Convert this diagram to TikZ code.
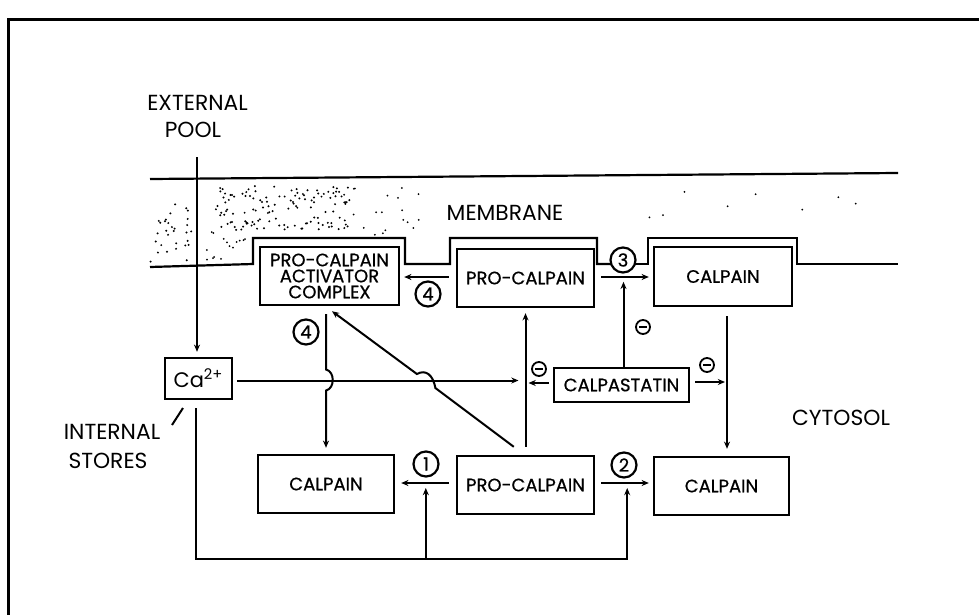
\documentclass[tikz,border=0pt]{standalone}
\usepackage{fontspec}
\setmainfont{Poppins}
\newfontfamily\boxfont{Poppins}[FakeBold=0.7]
\usetikzlibrary{arrows.meta,calc}
\begin{document}
\begin{tikzpicture}[x=0.5pt,y=-0.5pt,line width=1pt,
  arr/.style={-{Stealth[length=3.6pt,width=3pt]}},
  box/.style={draw,line width=1.2pt,inner sep=0pt,align=center,font=\boxfont\fontsize{9}{8}\selectfont},
  num/.style={draw,circle,line width=1.1pt,minimum size=12.5pt,inner sep=0pt,font=\boxfont\fontsize{9}{9}\selectfont},
  neg/.style={draw,circle,line width=0.9pt,minimum size=7pt,inner sep=0pt},
  lab/.style={font=\fontsize{10.9}{11}\selectfont,inner sep=0pt},
  mem/.style={line width=1.1pt}]
\useasboundingbox (0,0) rectangle (979,615);
% frame
\draw[line width=1.5pt] (8,615) -- (8,20) -- (979,20);
% stipple of the membrane
\pgfmathsetseed{12}
\foreach \i in {1,...,130}{\fill ({215+135*rnd},{186+44*rnd}) circle (0.55pt);}
\foreach \i in {1,...,30}{\fill ({150+44*rnd},{200+62*rnd}) circle (0.55pt);}
\foreach \i in {1,...,15}{\fill ({205+45*rnd},{230+30*rnd}) circle (0.5pt);}
\foreach \i in {1,...,18}{\fill ({350+75*rnd},{186+50*rnd}) circle (0.5pt);}
\foreach \i in {1,...,8}{\fill ({590+300*rnd},{190+40*rnd}) circle (0.5pt);}
% membrane
\draw[mem] (150,179) -- (898,173);
\draw[mem] (150,267) -- (253,264) -- (253,238) -- (405,238) -- (405,264) -- (450,264) -- (450,238) -- (597,238) -- (597,264) -- (611,264);
\draw[mem] (635,264) -- (648,264) -- (648,238) -- (797,238) -- (797,264) -- (898,264);
% labels
\node[lab] (ext) at (197.5,103) {EXTERNAL};
\node[lab] (pool) at (193,130) {POOL};
\node[lab] (memb) at (505,213) {MEMBRANE};
\node[lab] (cyto) at (841,418) {CYTOSOL};
\node[lab] (intl) at (112,432) {INTERNAL};
\node[lab] (stor) at (108,461) {STORES};
% boxes
\node[box,minimum width=69.5pt,minimum height=29pt] (act) at (329.5,276) {PRO-CALPAIN\\ACTIVATOR\\COMPLEX};
\node[box,minimum width=68.5pt,minimum height=29pt] (pct) at (525.5,278) {PRO-CALPAIN};
\node[box,minimum width=69pt,minimum height=29.5pt] (ct) at (723,276.5) {CALPAIN};
\node[box,minimum width=33.5pt,minimum height=20.5pt,font=\fontsize{10.5}{11}\selectfont] (ca) at (198.5,378.5) {Ca\textsuperscript{2+}};
\node[box,minimum width=67.5pt,minimum height=17pt] (cps) at (621.5,385) {CALPASTATIN};
\node[box,minimum width=68pt,minimum height=29pt] (cbl) at (326,484) {CALPAIN};
\node[box,minimum width=68.5pt,minimum height=29pt] (pcb) at (525.5,485) {PRO-CALPAIN};
\node[box,minimum width=67.5pt,minimum height=29pt] (cbr) at (721.5,486) {CALPAIN};
% numbered circles
\node[num] (n4h) at (428,294) {4};
\node[num] (n4v) at (306,332) {4};
\node[num] (n3) at (623,260) {3};
\node[num] (n1) at (426,464) {1};
\node[num] (n2) at (624,465) {2};
% minus circles
\node[neg] (m1) at (539,369) {\rule{3.6pt}{0.9pt}};
\node[neg] (m2) at (707,365) {\rule{3.6pt}{0.9pt}};
\node[neg] (m3) at (643,327) {\rule{3.6pt}{0.9pt}};
% external pool -> Ca
\coordinate (extop) at (197,157);
\draw[arr] (extop) -- ($(extop |- ca.north)+(0,-5)$);
% internal stores leader
\draw (183,408) -- (172,425);
% Ca -> vertical pro-calpain line
\draw[arr] ($(ca.east)+(4,2)$) -- ($(pct.south |- ca.east)+(-7,2)$);
% pro-calpain (cytosol) -> pro-calpain (membrane)
\draw[arr] ($(pcb.north)+(0,-8)$) -- ($(pct.south)+(0,5)$);
% calpastatin inhibitions
\draw[arr] ($(cps.west)+(-4,-2)$) -- ($(pct.south |- cps.west)+(3,-2)$);
\draw[arr] ($(cps.east)+(5,-3)$) -- ($(ct.south |- cps.east)+(2,-3)$);
\draw[arr] ($(cps.north)+(2,0)$) -- ($(cps.north)+(2,-85)$);
% step 4 horizontal
\draw[arr] ($(pct.west)+(-7,-1)$) -- ($(act.east |- pct.west)+(4,-1)$);
% step 3
\draw[arr] ($(pct.east)+(6,-1)$) -- ($(ct.west |- pct.east)+(-4,-1)$);
% calpain (membrane) -> calpain (cytosol)
\draw[arr] ($(ct.south)+(4,9)$) -- ($(ct.south |- cbr.north)+(4,-7)$);
% step 4 vertical, hopping over the Ca line
\draw[arr] ($(cbl.north |- act.south)+(0,8)$) -- ($(cbl.north |- ca.east)+(0,-9)$)
  .. controls +(9,2) and +(9,-2) .. ($(cbl.north |- ca.east)+(0,12)$) -- ($(cbl.north)+(0,-6)$);
% pro-calpain (cytosol) -> activator complex, hopping over the Ca line
\draw[arr] ($(pcb.north west)+(58,-8)$) -- (435.4,388) .. controls (433,375) and (426,369) .. (416.9,374)
  -- ($(act.south)+(2.5,5)$);
% steps 1 and 2
\coordinate (a1s) at ($(pcb.west)+(-7,-2)$);
\coordinate (a2s) at ($(pcb.east)+(6,-2)$);
\draw[arr] (a1s) -- ($(cbl.east |- a1s)+(6,0)$);
\draw[arr] (a2s) -- ($(cbr.west |- a2s)+(-4,0)$);
% Ca from internal stores -> steps 1 and 2
\draw[arr] ($(ca.south)+(-2.5,8)$) -- ++(0,151) -| ($(a2s)+(26,5)$);
\draw[arr] ($(a1s)+(-23,75)$) -- ($(a1s)+(-23,5)$);
\end{tikzpicture}
\end{document}
